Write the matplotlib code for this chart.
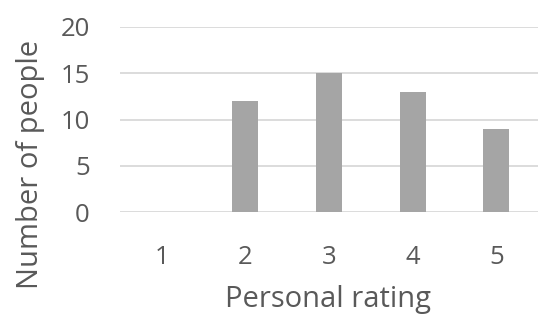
import matplotlib
matplotlib.use("Agg")
import matplotlib.pyplot as plt

categories = ["1", "2", "3", "4", "5"]
values = [0, 12, 15, 13, 9]
yticks = [0, 5, 10, 15, 20]

plt.rcParams['font.family'] = ['Open Sans', 'DejaVu Sans']
txt = '#595959'

fig = plt.figure(figsize=(5.5, 3.31), dpi=100)
W, H = 550, 331
ax = fig.add_axes([120 / W, 1 - 212 / H, (538 - 120) / W, (212 - 27) / H])

x = list(range(1, len(categories) + 1))
ax.bar(x, values, width=0.31, color='#A5A5A5', zorder=3)
ax.set_xlim(0.5, 5.5)
ax.set_ylim(0, 20)
ax.set_yticks(yticks)
ax.set_xticks(x)
ax.set_xticklabels(categories)
ax.grid(axis='y', color='#D9D9D9', linewidth=1.3, zorder=0)
ax.set_axisbelow(True)
for s in ax.spines.values():
    s.set_visible(False)
ax.tick_params(length=0, labelsize=18.5, labelcolor=txt)
ax.tick_params(axis='y', pad=21.6)
ax.tick_params(axis='x', pad=24)
for lbl in ax.get_yticklabels():
    lbl.set_horizontalalignment('right')

fig.text(328 / W, 1 - 300 / H, "Personal rating", ha='center', va='center', fontsize=21, color=txt)
fig.text(31 / W, 1 - 164 / H, "Number of people", ha='center', va='center', rotation=90, fontsize=21, color=txt)

fig.savefig("out.png", dpi=100)
